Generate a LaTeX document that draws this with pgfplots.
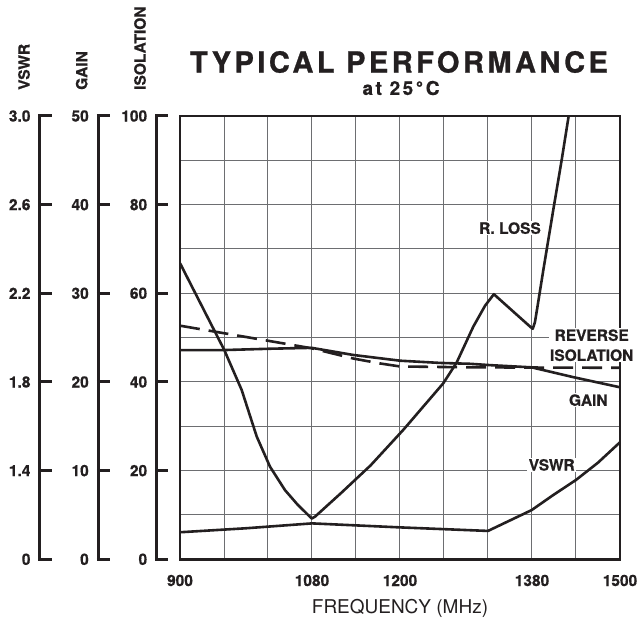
\documentclass[border=0pt]{standalone}
\usepackage{fontspec}
\setmainfont{TeX Gyre Heros}
\usepackage{pgfplots}
\pgfplotsset{compat=1.18}

\definecolor{ink}{HTML}{231F20}
\definecolor{gridc}{HTML}{6D6E71}
\newcommand\lbl{\bfseries\fontsize{15.5}{15.5}\selectfont\addfontfeatures{FakeBold=0.6}}

\pgfplotsset{
  ruler/.style={
    scale only axis, width=10pt, height=443.3pt, anchor=south west,
    xmin=0, xmax=1, ymin=0, ymax=100, clip=false,
    hide x axis, axis y line*=left,
    y axis line style={draw=none},
    ytick={0,20,...,100}, ytick pos=left,
    major tick length=0pt,
    yticklabel style={font=\lbl, text=ink, xshift=-6pt},
    execute at end axis={
      \draw[line width=3pt, ink] (axis cs:0,0) -- (axis cs:0,100);
      \pgfplotsinvokeforeach{0,20,40,60,80,100}{
        \draw[line width=3pt, ink] ([xshift=-1.5pt]axis cs:0,##1) -- ([xshift=11.7pt]axis cs:0,##1);
      }
    },
  }
}

\begin{document}
\begin{tikzpicture}
\path[use as bounding box] (0,0) rectangle (638pt,619pt);

% scale rulers on the left
\begin{axis}[ruler, at={(40pt,59.7pt)}, yticklabels={0,1.4,1.8,2.2,2.6,3.0}]
\end{axis}
\begin{axis}[ruler, at={(98.3pt,59.7pt)}, yticklabels={0,10,20,30,40,50}]
\end{axis}
\begin{axis}[ruler, at={(156.7pt,59.7pt)}, yticklabels={0,20,40,60,80,100}]
\end{axis}

\begin{axis}[
    scale only axis,
    width=440pt, height=443.3pt,
    at={(180pt,59.7pt)}, anchor=south west,
    xmin=900, xmax=1500, ymin=0, ymax=100,
    xtick={900,960,...,1500},
    xticklabels={900,,,1080,,1200,,,1380,,1500},
    ytick={0,10,...,100}, yticklabels={},
    grid=major,
    major grid style={line width=1pt, gridc},
    major tick length=0pt,
    axis line style={line width=2.8pt, ink},
    xticklabel style={font=\lbl, text=ink, yshift=-12pt},
    xlabel={FREQUENCY (MHz)},
    xlabel style={font=\fontsize{19}{19}\selectfont, text=ink,
        at={(axis description cs:0.5,-0.1105)}, anchor=center},
]
% R. LOSS
\addplot[ink, line width=2.6pt, line join=round] coordinates {
  (900,66.8)(960.4,47.2)(984.1,38.2)(1004.6,27.7)(1022.7,20.9)(1043.2,15.6)
  (1060,12.4)(1079.6,9.2)(1084,9.6)(1120,15.0)(1160,21.2)(1204.5,29.2)
  (1259,39.7)(1277.3,44.4)(1300,52.5)(1316,57.2)(1328,59.8)(1355,55.8)
  (1378,52.4)(1381,52.0)(1384,53.5)(1387,56.5)(1395.5,65.3)(1409,78.8)
  (1420.5,90.1)(1430,100)
};
% GAIN
\addplot[ink, line width=2.6pt, line join=round] coordinates {
  (900,47.2)(960,47.2)(1022.7,47.5)(1079.6,47.7)(1136,46.1)(1200,44.8)
  (1254.5,44.3)(1295.5,44.1)(1322.7,43.8)(1379.5,43.3)(1436,41.1)(1500,38.8)
};
% REVERSE ISOLATION
\addplot[ink, line width=2.6pt, dash pattern=on 20pt off 9pt] coordinates {
  (900,52.7)(960,51.0)(1020,49.3)(1079.6,47.6)(1136,45.3)(1172,44.2)
  (1200,43.5)(1295.5,43.3)(1500,43.2)
};
% VSWR
\addplot[ink, line width=2.6pt, line join=round] coordinates {
  (900,6.1)(990,7.0)(1080,8.1)(1200,7.2)(1320,6.4)(1379.5,11.1)(1409,14.5)
  (1440,17.9)(1470,21.8)(1500,26.4)
};
\coordinate (rl) at (axis cs:1350,74.7);
\coordinate (ri) at (axis cs:1461.4,48.3);
\coordinate (ga) at (axis cs:1456.8,35.9);
\coordinate (vs) at (axis cs:1406.9,21.3);
\end{axis}

\begin{scope}[every node/.style={fill=white, inner sep=1.5pt, text=ink}]
\node[font=\lbl] at (rl) {R. LOSS};
\node[font=\bfseries\fontsize{15.5}{20}\selectfont\addfontfeatures{FakeBold=0.6}, align=center, inner sep=1pt] at (ri) {REVERSE\\ISOLATION};
\node[font=\lbl] at (ga) {GAIN};
\node[font=\lbl] at (vs) {VSWR};
\end{scope}

% axis names
\begin{scope}[every node/.style={rotate=90, anchor=west, inner sep=0pt, font=\lbl, text=ink}]
\node at (24pt,529pt) {VSWR};
\node at (81.7pt,529pt) {GAIN};
\node at (140pt,529pt) {ISOLATION};
\end{scope}

\node[font=\bfseries\fontsize{29}{29}\selectfont\addfontfeatures{LetterSpace=12,FakeBold=1}, text=ink] at (399pt,557pt) {TYPICAL PERFORMANCE};
\node[font=\bfseries\fontsize{19}{19}\selectfont\addfontfeatures{LetterSpace=13,FakeBold=0.6}, text=ink] at (401pt,531pt) {at 25°C};
\end{tikzpicture}
\end{document}
